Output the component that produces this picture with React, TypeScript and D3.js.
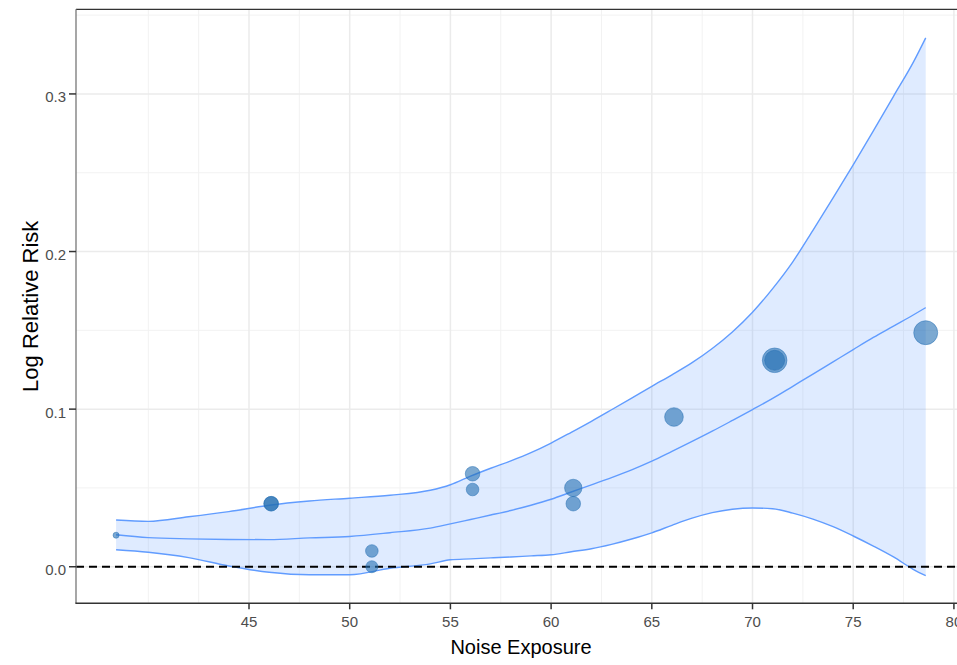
import React from "react";
import * as d3 from "d3";

// Exposure grid on which the fitted dose-response curve is evaluated
const gridX = [
  38.4, 40, 42, 44, 46, 48, 50, 52, 54, 55, 56, 57, 58, 59, 60, 61, 62, 63, 64,
  65, 66, 67, 68, 69, 70, 71, 72, 73, 74, 75, 76, 77, 78, 78.6,
];
// Pooled estimate (log relative risk)
const fitMid = [
  0.0203, 0.0185, 0.0177, 0.0173, 0.0172, 0.0183, 0.0192, 0.0216, 0.0245, 0.0272,
  0.0300, 0.0328, 0.0357, 0.039, 0.0428, 0.0474, 0.052, 0.0566, 0.0615, 0.067,
  0.0732, 0.0795, 0.086, 0.0928, 0.0997, 0.1068, 0.1145, 0.1222, 0.1300, 0.1378,
  0.1455, 0.1527, 0.1599, 0.1644,
];
// Upper confidence limit
const fitUpper = [
  0.0297, 0.0288, 0.0317, 0.035, 0.039, 0.0417, 0.0435, 0.0454, 0.0485, 0.052,
  0.0575, 0.0625, 0.0672, 0.0724, 0.0785, 0.0853, 0.0923, 0.0996, 0.107, 0.1145,
  0.1218, 0.1295, 0.1385, 0.149, 0.1615, 0.1765, 0.1935, 0.2135, 0.234, 0.255,
  0.2765, 0.2985, 0.3205, 0.3356,
];
// Lower confidence limit
const fitLower = [
  0.0108, 0.0092, 0.0058, 0.0005, -0.0035, -0.0051, -0.0051, -0.001, 0.0018,
  0.0044, 0.005, 0.0056, 0.0062, 0.0069, 0.0076, 0.0095, 0.0114, 0.0142, 0.0176,
  0.0215, 0.0263, 0.0308, 0.0343, 0.0365, 0.0373, 0.0368, 0.034, 0.0302, 0.0254,
  0.0195, 0.0131, 0.0062, -0.0018, -0.0057,
];

// Study-level estimates: exposure, log RR and precision weight
const studyX = [38.4, 46.1, 46.1, 51.1, 51.1, 56.1, 56.1, 61.1, 61.1, 66.1, 71.1, 71.1, 78.6];
const studyY = [0.02, 0.04, 0.04, 0.01, 0.0, 0.059, 0.049, 0.05, 0.04, 0.095, 0.131, 0.131, 0.1485];
const studyW = [0.24, 1.4, 1.4, 1.05, 0.95, 1.4, 1.05, 2.0, 1.4, 2.3, 4.0, 2.65, 3.8];

const xTicks = [45, 50, 55, 60, 65, 70, 75, 80];
const xMinor = [40, 42.5, 47.5, 52.5, 57.5, 62.5, 67.5, 72.5, 77.5];
const yTicks = [0, 0.1, 0.2, 0.3];
const yMinor = [0.05, 0.15, 0.25, 0.35];

const W = 957;
const H = 665;
const panel = { left: 76, right: 966, top: 9.3, bottom: 603.3 };
const FONT = "'Liberation Sans', Arial, Helvetica, sans-serif";

export default function App() {
  const x = d3.scaleLinear().domain([36.41, 80.6]).range([panel.left, panel.right]);
  const y = d3.scaleLinear().domain([-0.0232, 0.3537]).range([panel.bottom, panel.top]);
  const r = d3.scaleSqrt().domain([0, 4]).range([0, 12.3]);

  const idx = gridX.map((_, i) => i);
  const area = d3
    .area<number>()
    .x((i) => x(gridX[i]))
    .y0((i) => y(fitLower[i]))
    .y1((i) => y(fitUpper[i]))
    .curve(d3.curveMonotoneX);
  const lineOf = (vals: number[]) =>
    d3
      .line<number>()
      .x((i) => x(gridX[i]))
      .y((i) => y(vals[i]))
      .curve(d3.curveMonotoneX)(idx) || "";

  const lineColor = "#619CFF";
  const pointColor = "#2570b3";

  return (
    <svg
      width={W}
      height={H}
      style={{ position: "fixed", left: 0, top: 0, background: "#fff" }}
      fontFamily={FONT}
    >
      <rect x={0} y={0} width={W} height={H} fill="#fff" />
      {/* grid */}
      {yMinor.map((v) => (
        <line key={"ym" + v} x1={panel.left} x2={panel.right} y1={y(v)} y2={y(v)} stroke="#f2f2f2" strokeWidth={1} />
      ))}
      {xMinor.map((v) => (
        <line key={"xm" + v} x1={x(v)} x2={x(v)} y1={panel.top} y2={panel.bottom} stroke="#f2f2f2" strokeWidth={1} />
      ))}
      {yTicks.map((v) => (
        <line key={"yg" + v} x1={panel.left} x2={panel.right} y1={y(v)} y2={y(v)} stroke="#ebebeb" strokeWidth={1.5} />
      ))}
      {xTicks.map((v) => (
        <line key={"xg" + v} x1={x(v)} x2={x(v)} y1={panel.top} y2={panel.bottom} stroke="#ebebeb" strokeWidth={1.5} />
      ))}

      {/* confidence band and fitted curves */}
      <path d={area(idx) || ""} fill={lineColor} fillOpacity={0.2} />
      <path d={lineOf(fitUpper)} fill="none" stroke={lineColor} strokeWidth={1.4} />
      <path d={lineOf(fitMid)} fill="none" stroke={lineColor} strokeWidth={1.4} />
      <path d={lineOf(fitLower)} fill="none" stroke={lineColor} strokeWidth={1.4} />

      {/* reference line at no effect */}
      <line
        x1={panel.left}
        x2={panel.right}
        y1={y(0)}
        y2={y(0)}
        stroke="#000"
        strokeWidth={1.8}
        strokeDasharray="8,5"
      />

      {/* study estimates */}
      {studyX.map((sx, i) => (
        <circle
          key={"p" + i}
          cx={x(sx)}
          cy={y(studyY[i])}
          r={r(studyW[i])}
          fill={pointColor}
          fillOpacity={0.6}
          stroke={pointColor}
          strokeOpacity={0.5}
          strokeWidth={1}
        />
      ))}

      {/* panel frame and axes */}
      <line x1={panel.left} x2={panel.right} y1={panel.top} y2={panel.top} stroke="#333" strokeWidth={1.3} />
      <line x1={panel.left} x2={panel.left} y1={panel.top} y2={panel.bottom} stroke="#777" strokeWidth={1.3} />
      <line x1={panel.left - 0.6} x2={panel.right} y1={panel.bottom} y2={panel.bottom} stroke="#333" strokeWidth={1.5} />

      {yTicks.map((v) => (
        <g key={"yt" + v}>
          <line x1={panel.left - 7} x2={panel.left} y1={y(v)} y2={y(v)} stroke="#333" strokeWidth={1.5} />
          <text x={panel.left - 10} y={y(v) + 8.5} textAnchor="end" fontSize={15} fill="#4d4d4d">
            {d3.format(".1f")(v)}
          </text>
        </g>
      ))}
      {xTicks.map((v) => (
        <g key={"xt" + v}>
          <line x1={x(v)} x2={x(v)} y1={panel.bottom} y2={panel.bottom + 6} stroke="#333" strokeWidth={1.5} />
          <text x={x(v)} y={627} textAnchor="middle" fontSize={15} fill="#4d4d4d">
            {v}
          </text>
        </g>
      ))}

      <text x={(panel.left + panel.right) / 2} y={654.3} textAnchor="middle" fontSize={20} fill="#000">
        Noise Exposure
      </text>
      <text
        transform={`translate(37.5, ${(panel.top + panel.bottom) / 2}) rotate(-90)`}
        textAnchor="middle"
        fontSize={22}
        fill="#000"
      >
        Log Relative Risk
      </text>
    </svg>
  );
}
